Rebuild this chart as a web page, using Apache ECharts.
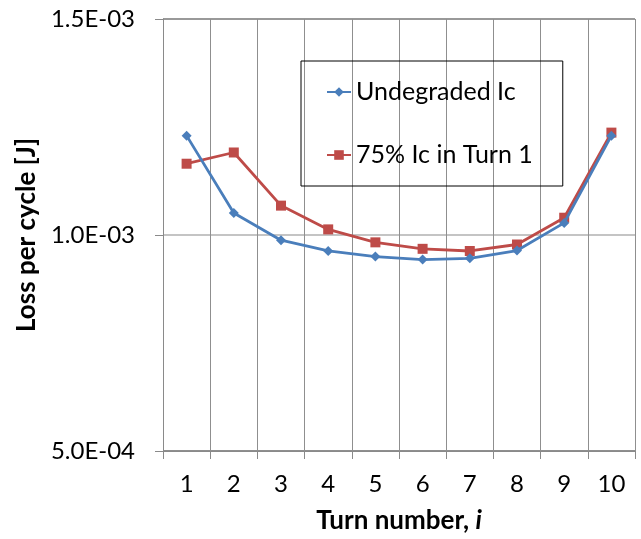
<!DOCTYPE html>
<html>
<head>
<meta charset="utf-8">
<script src="https://cdn.jsdelivr.net/npm/echarts@6/dist/echarts.min.js"></script>
<style>
  html, body { margin: 0; padding: 0; background: #fff; }
  #chart { width: 641px; height: 539px; }
</style>
</head>
<body>
<div id="chart"></div>
<script>
// Turn numbers along the x axis
const turns = ['1', '2', '3', '4', '5', '6', '7', '8', '9', '10'];

// AC loss per cycle [J] for each turn
const undegraded = [1.230e-3, 1.051e-3, 0.988e-3, 0.963e-3, 0.950e-3, 0.943e-3, 0.946e-3, 0.964e-3, 1.028e-3, 1.230e-3];
const degradedTurn1 = [1.165e-3, 1.191e-3, 1.068e-3, 1.013e-3, 0.983e-3, 0.968e-3, 0.963e-3, 0.978e-3, 1.040e-3, 1.237e-3];

// Y axis range and step
const yMin = 5e-4, yMax = 1.5e-3, yStep = 5e-4;

const FONT = 'Lato, "Open Sans", sans-serif';

function sci(v) {
  const [m, e] = Number(v).toExponential(1).split('e');
  const n = parseInt(e, 10);
  const sign = n < 0 ? '-' : '+';
  const abs = String(Math.abs(n)).padStart(2, '0');
  return m + 'E' + sign + abs;
}

const chart = echarts.init(document.getElementById('chart'), null, { renderer: 'canvas' });

chart.setOption({
  animation: false,
  backgroundColor: '#fff',
  grid: { left: 163, top: 19, right: 6, bottom: 87, containLabel: false },
  legend: {
    orient: 'vertical',
    left: 301,
    top: 61,
    padding: [17, 30, 17, 25],
    itemGap: 35,
    itemWidth: 24,
    itemHeight: 12,
    borderColor: '#000',
    borderWidth: 1,
    textStyle: { fontFamily: FONT, fontSize: 25, color: '#000', lineHeight: 28 },
    data: ['Undegraded Ic', '75% Ic in Turn 1']
  },
  xAxis: {
    type: 'category',
    data: turns,
    boundaryGap: true,
    name: 'Turn number, {it|i}',
    nameLocation: 'middle',
    nameGap: 57,
    nameTextStyle: {
      fontFamily: FONT, fontSize: 26, fontWeight: 'bold', color: '#000',
      rich: { it: { fontFamily: FONT, fontSize: 26, fontWeight: 'bold', fontStyle: 'italic', color: '#000' } }
    },
    axisLine: { lineStyle: { color: '#8a8a8a', width: 1 } },
    axisTick: { show: true, length: 8, lineStyle: { color: '#8a8a8a' } },
    axisLabel: { fontFamily: FONT, fontSize: 24, color: '#000', margin: 21 },
    splitLine: { show: true, lineStyle: { color: '#8f8f8f', width: 1 } }
  },
  yAxis: {
    type: 'value',
    min: yMin,
    max: yMax,
    interval: yStep,
    name: 'Loss per cycle [J]',
    nameLocation: 'middle',
    nameGap: 120,
    nameTextStyle: { fontFamily: FONT, fontSize: 26, fontWeight: 'bold', color: '#000' },
    axisLine: { show: true, lineStyle: { color: '#8a8a8a', width: 1 } },
    axisTick: { show: true, length: 8, lineStyle: { color: '#8a8a8a' } },
    axisLabel: { fontFamily: FONT, fontSize: 24, color: '#000', margin: 28, formatter: sci },
    splitLine: { show: true, lineStyle: { color: ['#8f8f8f', '#c4c4c4', '#999999'], width: 2 } }
  },
  series: [
    {
      name: 'Undegraded Ic',
      type: 'line',
      data: undegraded,
      symbol: 'diamond',
      symbolSize: 10,
      color: '#4a7ebb',
      lineStyle: { width: 2.8, color: '#4a7ebb' },
      itemStyle: { color: '#4a7ebb' },
      z: 3
    },
    {
      name: '75% Ic in Turn 1',
      type: 'line',
      data: degradedTurn1,
      symbol: 'rect',
      symbolSize: 10,
      color: '#be4b48',
      lineStyle: { width: 2.8, color: '#be4b48' },
      itemStyle: { color: '#be4b48' },
      z: 2
    }
  ]
});
</script>
</body>
</html>
